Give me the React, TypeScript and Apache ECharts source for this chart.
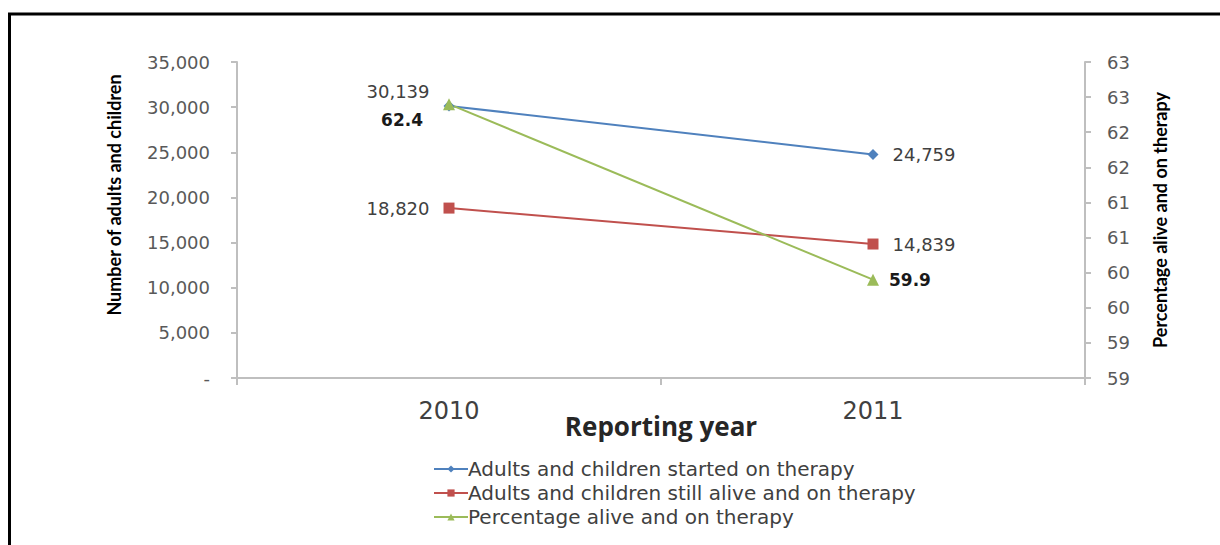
import React, { useEffect, useRef } from "react";
import * as echarts from "echarts";

// Reporting years and series values
const years = ["2010", "2011"];
const startedOnTherapy = [30139, 24759];
const stillAlive = [18820, 14839];
const percentAlive = [62.4, 59.9];

const seriesNames = [
  "Adults and children started on therapy",
  "Adults and children still alive and on therapy",
  "Percentage alive and on therapy",
];

const BLUE = "#4F81BD";
const RED = "#C0504D";
const GREEN = "#9BBB59";
const TICK_FONT = "DejaVu Sans, Verdana, sans-serif";
const TITLE_FONT = "Lato, Open Sans, sans-serif";

const fmtCount = (v: number) => (v === 0 ? "-" : v.toLocaleString("en-US"));

export default function App() {
  const ref = useRef<HTMLDivElement>(null);

  useEffect(() => {
    if (!ref.current) return;
    const chart = echarts.init(ref.current, undefined, { renderer: "svg" });

    const countLabel = (pos: "left" | "right", dy: number) => ({
      show: true,
      position: pos,
      distance: 14,
      offset: [0, dy],
      fontFamily: TICK_FONT,
      fontSize: 18,
      color: "#404040",
      formatter: (p: any) => fmtCount(p.value),
    });

    chart.setOption({
      animation: false,
      backgroundColor: "#ffffff",
      graphic: [
        {
          type: "polyline",
          shape: { points: [[9.5, 545], [9.5, 14], [1220, 14]] },
          style: { stroke: "#000", lineWidth: 3, fill: "none" },
          silent: true,
        },
      ],
      grid: { left: 237, right: 135, top: 62, bottom: 167 },
      legend: {
        orient: "vertical",
        left: 428,
        top: 454,
        itemWidth: 34,
        itemHeight: 9,
        itemGap: 4,
        data: seriesNames,
        textStyle: { fontFamily: TICK_FONT, fontSize: 20, color: "#404040", padding: [0, 0, 0, -5] },
      },
      xAxis: {
        type: "category",
        data: years,
        boundaryGap: true,
        name: "Reporting year",
        nameLocation: "middle",
        nameGap: 35,
        nameMoveOverlap: false,
        nameTextStyle: { fontFamily: "Open Sans, sans-serif", fontWeight: "bold", fontSize: 26, color: "#262626" },
        axisLine: { lineStyle: { color: "#bfbfbf", width: 2 } },
        axisTick: { show: true, interval: 0, length: 7, lineStyle: { color: "#bfbfbf", width: 2 } },
        axisLabel: { fontFamily: TICK_FONT, fontSize: 24, color: "#404040", margin: 21 },
        splitLine: { show: false },
      },
      yAxis: [
        {
          type: "value",
          min: 0,
          max: 35000,
          interval: 5000,
          name: "Number of adults and children",
          nameLocation: "middle",
          nameRotate: 90,
          nameGap: 114,
          nameMoveOverlap: false,
          nameTextStyle: {
            fontFamily: TITLE_FONT,
            fontWeight: "bold",
            fontSize: 18,
            color: "#000",
            padding: [0, 0, 0, 50],
          },
          axisLine: { show: true, lineStyle: { color: "#bfbfbf", width: 2 } },
          axisTick: { show: true, length: 6, lineStyle: { color: "#bfbfbf", width: 2 } },
          axisLabel: {
            fontFamily: TICK_FONT,
            fontSize: 18,
            color: "#595959",
            margin: 27,
            formatter: (v: number) => fmtCount(v),
          },
          splitLine: { show: false },
        },
        {
          type: "value",
          min: 58.5,
          max: 63,
          interval: 0.5,
          position: "right",
          name: "Percentage alive and on therapy",
          nameLocation: "middle",
          nameRotate: 90,
          nameGap: 66,
          nameMoveOverlap: false,
          nameTextStyle: { fontFamily: TITLE_FONT, fontWeight: "bold", fontSize: 18, color: "#000" },
          axisLine: { show: true, lineStyle: { color: "#bfbfbf", width: 2 } },
          axisTick: { show: true, length: 6, lineStyle: { color: "#bfbfbf", width: 2 } },
          axisLabel: {
            fontFamily: TICK_FONT,
            fontSize: 18,
            color: "#595959",
            margin: 22,
            formatter: (v: number) => String(Math.round(v)),
          },
          splitLine: { show: false },
        },
      ],
      series: [
        {
          name: seriesNames[0],
          type: "line",
          yAxisIndex: 0,
          symbol: "diamond",
          symbolSize: 11,
          lineStyle: { color: BLUE, width: 2 },
          itemStyle: { color: BLUE },
          data: [
            { value: startedOnTherapy[0], label: countLabel("left", -14) },
            { value: startedOnTherapy[1], label: countLabel("right", 0) },
          ],
        },
        {
          name: seriesNames[1],
          type: "line",
          yAxisIndex: 0,
          symbol: "rect",
          symbolSize: 11,
          lineStyle: { color: RED, width: 2 },
          itemStyle: { color: RED },
          data: [
            { value: stillAlive[0], label: countLabel("left", 0) },
            { value: stillAlive[1], label: countLabel("right", 0) },
          ],
        },
        {
          name: seriesNames[2],
          type: "line",
          yAxisIndex: 1,
          symbol: "triangle",
          symbolSize: 12,
          lineStyle: { color: GREEN, width: 2 },
          itemStyle: { color: GREEN },
          label: {
            show: true,
            fontFamily: TICK_FONT,
            fontSize: 17,
            fontWeight: "bold",
            color: "#1a1a1a",
            formatter: (p: any) => p.value.toFixed(1),
          },
          data: [
            { value: percentAlive[0], label: { position: "left", distance: 20, offset: [0, 16] } },
            { value: percentAlive[1], label: { position: "right", distance: 10, offset: [0, 0] } },
          ],
        },
      ],
    });

    return () => chart.dispose();
  }, []);

  return (
    <div
      ref={ref}
      style={{ position: "fixed", left: 0, top: 0, width: 1220, height: 545 }}
    />
  );
}
